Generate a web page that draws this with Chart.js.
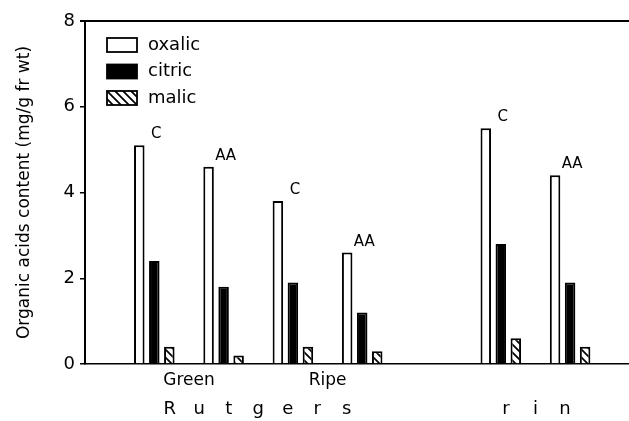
<!DOCTYPE html>
<html><head><meta charset="utf-8">
<script src="https://cdn.jsdelivr.net/npm/chart.js@4"></script>
<style>html,body{margin:0;padding:0;background:#fff;overflow:hidden}</style>
</head><body>
<canvas id="c" width="629" height="421"></canvas>
<script>
// ---- data ----
const groupPositions = [1, 2, 3, 4, 6, 7];
const treatments = ['C', 'AA', 'C', 'AA', 'C', 'AA'];
const oxalic = [5.1, 4.6, 3.8, 2.6, 5.5, 4.4];
const citric = [2.4, 1.8, 1.9, 1.2, 2.8, 1.9];
const malic = [0.4, 0.2, 0.4, 0.3, 0.6, 0.4];
const stageLabels = ['Green', 'Ripe'];
const stagePositions = [1.5, 3.5];
const cultivars = ['Rutgers', 'rin'];
const cultivarPositions = [2.5, 6.5];
const seriesNames = ['oxalic', 'citric', 'malic'];
const yTicks = [0, 2, 4, 6, 8];
const yTitle = 'Organic acids content (mg/g fr wt)';

const FONT = '"DejaVu Sans", sans-serif';

function hatch() {
  const s = 8;
  const p = document.createElement('canvas');
  p.width = s; p.height = s;
  const g = p.getContext('2d');
  g.fillStyle = '#fff'; g.fillRect(0, 0, s, s);
  g.strokeStyle = '#000'; g.lineWidth = 1.7;
  g.beginPath();
  g.moveTo(-1, -1); g.lineTo(s + 1, s + 1);
  g.moveTo(-1, s - 1); g.lineTo(1, s + 1);
  g.moveTo(s - 1, -1); g.lineTo(s + 1, 1);
  g.stroke();
  return document.getElementById('c').getContext('2d').createPattern(p, 'repeat');
}
const hatchPattern = hatch();

const pts = arr => arr.map((v, i) => ({ x: groupPositions[i], y: v }));

const extras = {
  id: 'extras',
  afterDraw(chart) {
    const { ctx, chartArea: a, scales: { x, y } } = chart;
    ctx.save();
    // top frame line
    ctx.strokeStyle = '#000'; ctx.lineWidth = 2;
    ctx.beginPath(); ctx.moveTo(a.left - 5, a.top); ctx.lineTo(a.right, a.top); ctx.stroke();
    // treatment labels above oxalic bars
    ctx.fillStyle = '#000';
    ctx.font = '15px ' + FONT;
    ctx.textAlign = 'center'; ctx.textBaseline = 'alphabetic';
    treatments.forEach((t, i) => {
      ctx.fillText(t, x.getPixelForValue(groupPositions[i]) + 2, y.getPixelForValue(oxalic[i]) - 7);
    });
    // cultivar names (spaced letters)
    ctx.font = '18px ' + FONT;
    ctx.textBaseline = 'middle';
    const pitch = 29.5;
    cultivars.forEach((name, k) => {
      const cx = x.getPixelForValue(cultivarPositions[k]);
      const n = name.length;
      for (let i = 0; i < n; i++) {
        ctx.fillText(name[i], cx + (i - (n - 1) / 2) * pitch, 409);
      }
    });
    // legend
    const ds = chart.data.datasets;
    ctx.font = '18px ' + FONT;
    ctx.textAlign = 'left';
    ds.forEach((d, i) => {
      const bx = 107, by = 38 + i * 26.5, bw = 30, bh = 14;
      ctx.fillStyle = d.backgroundColor;
      ctx.fillRect(bx, by, bw, bh);
      ctx.strokeStyle = '#000'; ctx.lineWidth = 1.8;
      ctx.strokeRect(bx, by, bw, bh);
      ctx.fillStyle = '#000';
      ctx.fillText(d.label, 148, by + bh / 2);
    });
    ctx.restore();
  }
};

new Chart(document.getElementById('c'), {
  type: 'bar',
  data: {
    datasets: [
      { label: seriesNames[0], data: pts(oxalic), backgroundColor: '#fff', borderColor: '#000', borderWidth: 2 },
      { label: seriesNames[1], data: pts(citric), backgroundColor: '#000', borderColor: '#000', borderWidth: 2 },
      { label: seriesNames[2], data: pts(malic), backgroundColor: hatchPattern, borderColor: '#000', borderWidth: 2 }
    ]
  },
  options: {
    responsive: false,
    animation: false,
    devicePixelRatio: 1,
    categoryPercentage: 0.65,
    barPercentage: 0.7,
    layout: { padding: { left: 0, right: 0, top: 21, bottom: 0 } },
    plugins: { legend: { display: false }, tooltip: { enabled: false } },
    scales: {
      x: {
        type: 'linear', min: 0, max: 7.85, offset: false,
        afterBuildTicks: s => { s.ticks = stagePositions.map(v => ({ value: v })); },
        afterFit: s => { s.height = 57; },
        ticks: {
          color: '#000', font: { family: FONT, size: 17 }, padding: 6, maxRotation: 0, autoSkip: false,
          callback: (v) => { const i = stagePositions.indexOf(v); return i >= 0 ? stageLabels[i] : ''; }
        },
        grid: { display: false, drawTicks: false, offset: false },
        border: { color: '#000', width: 1.5 }
      },
      y: {
        min: 0, max: 8,
        afterBuildTicks: s => { s.ticks = yTicks.map(v => ({ value: v })); },
        afterFit: s => { s.width = 85; },
        ticks: { color: '#000', font: { family: FONT, size: 18 }, padding: 5 },
        grid: { drawOnChartArea: false, drawTicks: true, tickLength: 5, color: '#000', lineWidth: 1.5 },
        border: { color: '#000', width: 2 },
        title: { display: true, text: yTitle, color: '#000', font: { family: FONT, size: 17 }, padding: { top: 14, bottom: 0 } }
      }
    }
  },
  plugins: [extras]
});
</script>
</body></html>
